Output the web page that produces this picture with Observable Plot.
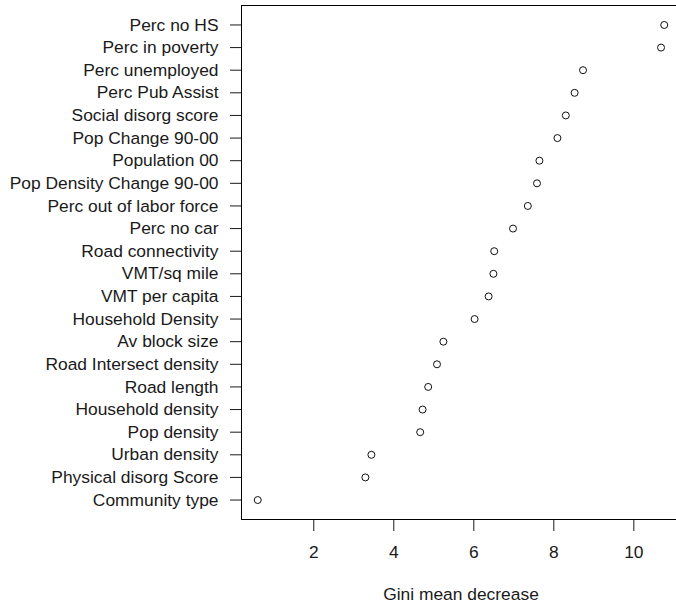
<!DOCTYPE html>
<html><head><meta charset="utf-8">
<script src="https://cdn.jsdelivr.net/npm/d3@7"></script>
<script src="https://cdn.jsdelivr.net/npm/@observablehq/plot@0.6"></script>
<style>html,body{margin:0;padding:0;background:#fff;overflow:hidden}</style>
</head><body><div id="chart"></div>
<script>
const variables = [
  "Perc no HS", "Perc in poverty", "Perc unemployed", "Perc Pub Assist",
  "Social disorg score", "Pop Change 90-00", "Population 00",
  "Pop Density Change 90-00", "Perc out of labor force", "Perc no car",
  "Road connectivity", "VMT/sq mile", "VMT per capita", "Household Density",
  "Av block size", "Road Intersect density", "Road length", "Household density",
  "Pop density", "Urban density", "Physical disorg Score", "Community type"
];
const giniValues = [
  10.76, 10.68, 8.73, 8.52, 8.30, 8.09, 7.64, 7.58, 7.35, 6.98,
  6.51, 6.49, 6.37, 6.02, 5.24, 5.08, 4.86, 4.72, 4.66, 3.44, 3.29, 0.60
];
const xTicks = [2, 4, 6, 8, 10];
const axisTitle = "Gini mean decrease";

const data = variables.map((v, i) => ({variable: v, gini: giniValues[i]}));
const lo = d3.min(giniValues), hi = d3.max(giniValues), pad = (hi - lo) * 0.04;

const chart = Plot.plot({
  width: 676, height: 608,
  marginLeft: 241, marginRight: -4, marginTop: 5, marginBottom: 89,
  style: {fontFamily: "'Liberation Sans', Arial, sans-serif", fontSize: "17.4px", color: "#1a1a1a", background: "#fff"},
  x: {domain: [lo - pad, hi + pad], ticks: xTicks, tickSize: 12, tickPadding: 14, label: null},
  y: {type: "point", domain: variables, padding: 0.86, round: false, tickSize: 11, tickPadding: 12, label: null},
  marks: [
    Plot.frame({stroke: "#000"}),
    Plot.dot(data, {x: "gini", y: "variable", r: 3.5, stroke: "#111", fill: "none", strokeWidth: 1}),
    Plot.text([axisTitle], {frameAnchor: "bottom", dy: 80, text: d => d, fontSize: 17.4, fill: "#1a1a1a"})
  ]
});
document.getElementById("chart").appendChild(chart);
</script>
</body></html>
